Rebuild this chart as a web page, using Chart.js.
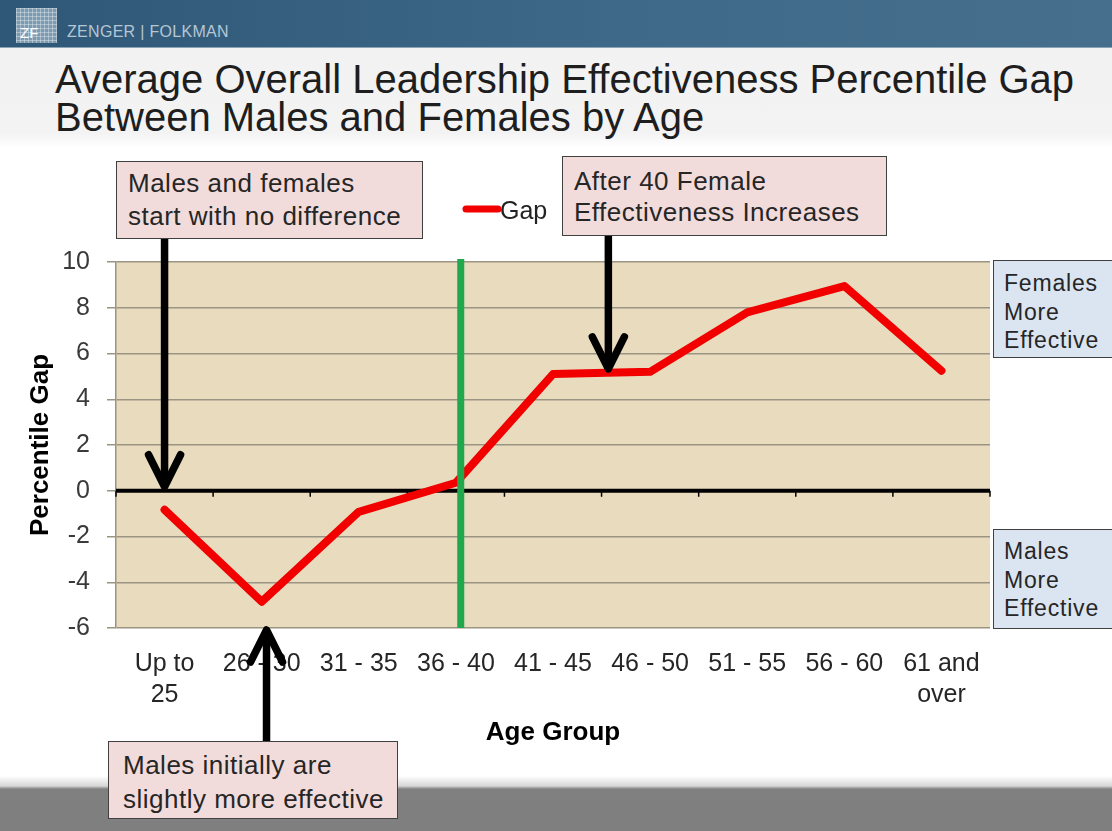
<!DOCTYPE html>
<html>
<head>
<meta charset="utf-8">
<script src="https://cdn.jsdelivr.net/npm/chart.js@4/dist/chart.umd.min.js"></script>
<style>
  html, body { margin:0; padding:0; background:#fff; }
  body { width:1112px; height:831px; position:relative; overflow:hidden; font-family:'Liberation Sans', Arial, sans-serif; }
  #header { position:absolute; left:0; top:0; width:1112px; height:47px; background:linear-gradient(to right,#2f5777,#3f6a89 60%,#456f8c); border-bottom:1px solid #8aa3b5; }
  #logo { position:absolute; left:16px; top:8px; width:41px; height:35px;
    background-color:#7d9ab0;
    background-image:repeating-linear-gradient(to right, rgba(255,255,255,0.35) 0 1px, transparent 1px 4px), repeating-linear-gradient(to bottom, rgba(255,255,255,0.35) 0 1px, transparent 1px 4px);
    color:#fff; font-size:15px; line-height:15px; }
  #logo span { position:absolute; left:4px; bottom:3px; }
  #brand { position:absolute; left:67px; top:23px; font-size:16px; color:#b3c7d5; letter-spacing:0.3px; }
  #titleband { position:absolute; left:0; top:48px; width:1112px; height:100px; background:linear-gradient(to bottom,#f2f2f2 0%,#f3f3f3 85%,#ffffff 100%); }
  #title { position:absolute; left:55px; top:60px; font-size:40px; line-height:38px; color:#1e1e1e; white-space:nowrap; }
  #bottombar { position:absolute; left:0; top:776px; width:1112px; height:55px; background:linear-gradient(to bottom,#ffffff 0px,#d6d6d6 10px,#808080 13px,#7f7f7f 55px); }
  #c { position:absolute; left:0; top:0; }
  .box { position:absolute; box-sizing:border-box; border:1.5px solid #404040; color:#262626; white-space:nowrap; }
  .pink { background:#f2dcdb; font-size:26px; letter-spacing:0.5px; }
  .blue { background:#dbe5f1; font-size:23px; letter-spacing:0.8px; line-height:28.5px; }
</style>
</head>
<body>
<div id="header"><div id="logo"><span>ZF</span></div><div id="brand">ZENGER | FOLKMAN</div></div>
<div id="titleband"></div>
<div id="title">Average Overall Leadership Effectiveness Percentile Gap<br>Between Males and Females by Age</div>
<div id="bottombar"></div>
<canvas id="c" width="1112" height="831"></canvas>
<div class="box pink" style="left:116px;top:161px;width:307px;height:78px;padding:5px 0 0 11px;line-height:33px;">Males and females<br>start with no difference</div>
<div class="box pink" style="left:562px;top:156px;width:325px;height:80px;padding:9px 0 0 11px;line-height:31px;">After 40 Female<br>Effectiveness Increases</div>
<div class="box pink" style="left:108px;top:741px;width:290px;height:78px;padding:6px 0 0 14px;line-height:34px;">Males initially are<br>slightly more effective</div>
<div class="box blue" style="left:993px;top:260px;width:125px;height:98px;padding:8px 0 0 10px;">Females<br>More<br>Effective</div>
<div class="box blue" style="left:993px;top:529px;width:125px;height:100px;padding:7px 0 0 10px;">Males<br>More<br>Effective</div>
<script>
// ---- data ----
const categories = [["Up to", "25"], "26 - 30", "31 - 35", "36 - 40", "41 - 45", "46 - 50", "51 - 55", "56 - 60", ["61 and", "over"]];
const gapValues = [-0.83, -4.85, -0.92, 0.35, 5.1, 5.2, 7.8, 8.95, 5.25];
const seriesName = "Gap";
const yMin = -6, yMax = 10, yStep = 2;
const xTitle = "Age Group";
const yTitle = "Percentile Gap";
// annotation anchors (in data units)
const greenMarkerAt = 3.05;
const arrowTargets = [
  { x: 0, y: 0, dir: "down", fromY: 239 },
  { x: 4.57, y: 5.15, dir: "down", fromY: 236 },
  { x: 1.05, y: yMin, dir: "up", fromY: 741 }
];

const FONT = "'Liberation Sans', Arial, sans-serif";

const decor = {
  id: "decor",
  beforeDatasetsDraw(chart) {
    const { ctx, chartArea: a, scales: { x, y } } = chart;
    const y0 = y.getPixelForValue(0);
    ctx.save();
    ctx.strokeStyle = "#000";
    ctx.lineWidth = 4;
    ctx.beginPath(); ctx.moveTo(a.left, y0); ctx.lineTo(a.right, y0); ctx.stroke();
    ctx.lineWidth = 1.5;
    for (let i = 0; i <= categories.length; i++) {
      const px = x.getPixelForValue(i - 0.5);
      ctx.beginPath(); ctx.moveTo(px, y0); ctx.lineTo(px, y0 + 6); ctx.stroke();
    }
    ctx.restore();
  },
  beforeDraw(chart) {
    const { ctx, chartArea: a } = chart;
    ctx.save();
    ctx.fillStyle = "#e9dbbe";
    ctx.fillRect(a.left, a.top, a.right - a.left, a.bottom - a.top);
    ctx.restore();
  },
  afterDatasetsDraw(chart) {
    const { ctx, chartArea: a, scales: { x, y } } = chart;
    const gx = x.getPixelForValue(greenMarkerAt);
    ctx.save();
    ctx.strokeStyle = "#1fa84c";
    ctx.lineWidth = 7;
    ctx.beginPath(); ctx.moveTo(gx, a.top - 3); ctx.lineTo(gx, a.bottom); ctx.stroke();
    ctx.restore();
  },
  afterDraw(chart) {
    const { ctx, scales: { x, y } } = chart;
    ctx.save();
    // arrows
    ctx.strokeStyle = "#000";
    ctx.lineWidth = 7.5;
    ctx.lineJoin = "round";
    arrowTargets.forEach(t => {
      const px = x.getPixelForValue(t.x);
      const tipY = y.getPixelForValue(t.y) + (t.dir === "down" ? -4 : 2);
      ctx.lineCap = "butt";
      ctx.beginPath(); ctx.moveTo(px, t.fromY); ctx.lineTo(px, tipY + (t.dir === "down" ? -4 : 4)); ctx.stroke();
      ctx.lineCap = "round";
      const s = t.dir === "down" ? -1 : 1;
      ctx.beginPath();
      ctx.moveTo(px - 16, tipY + s * 32);
      ctx.lineTo(px, tipY);
      ctx.lineTo(px + 16, tipY + s * 32);
      ctx.stroke();
    });
    // legend
    const ds = chart.data.datasets[0];
    ctx.strokeStyle = ds.borderColor;
    ctx.lineWidth = 7;
    ctx.lineCap = "round";
    ctx.beginPath(); ctx.moveTo(466, 209); ctx.lineTo(498, 209); ctx.stroke();
    ctx.fillStyle = "#222";
    ctx.font = "25px " + FONT;
    ctx.textBaseline = "middle";
    ctx.textAlign = "left";
    ctx.fillText(ds.label, 500, 212);
    ctx.restore();
  }
};

new Chart(document.getElementById("c"), {
  type: "line",
  data: {
    labels: categories,
    datasets: [{
      label: seriesName,
      data: gapValues,
      borderColor: "#f20000",
      borderWidth: 8,
      pointRadius: 0,
      tension: 0,
      borderJoinStyle: "round",
      borderCapStyle: "round"
    }]
  },
  options: {
    responsive: false,
    animation: false,
    devicePixelRatio: 1,
    layout: { padding: { left: 21, top: 262, right: 122, bottom: 79 } },
    plugins: { legend: { display: false }, tooltip: { enabled: false } },
    scales: {
      x: {
        offset: true,
        grid: { display: false, drawTicks: false },
        border: { display: false },
        ticks: { color: "#262626", font: { family: FONT, size: 25, lineHeight: 1.25 }, padding: 20, maxRotation: 0, autoSkip: false },
        title: { display: true, text: xTitle, color: "#000", font: { family: FONT, size: 26, weight: "bold" }, padding: 4 },
        afterFit(s) { s.height = 124; }
      },
      y: {
        min: yMin, max: yMax,
        ticks: { stepSize: yStep, color: "#3a3a3a", font: { family: FONT, size: 25 }, padding: 17 },
        grid: { color: "#9b9483", lineWidth: 1.5, tickLength: 9, drawTicks: true },
        border: { display: true, color: "#9b9483", width: 1.5 },
        title: { display: true, text: yTitle, color: "#000", font: { family: FONT, size: 26, weight: "bold" }, padding: 4 },
        afterFit(s) { s.width = 95; }
      }
    }
  },
  plugins: [decor]
});
</script>
</body>
</html>
